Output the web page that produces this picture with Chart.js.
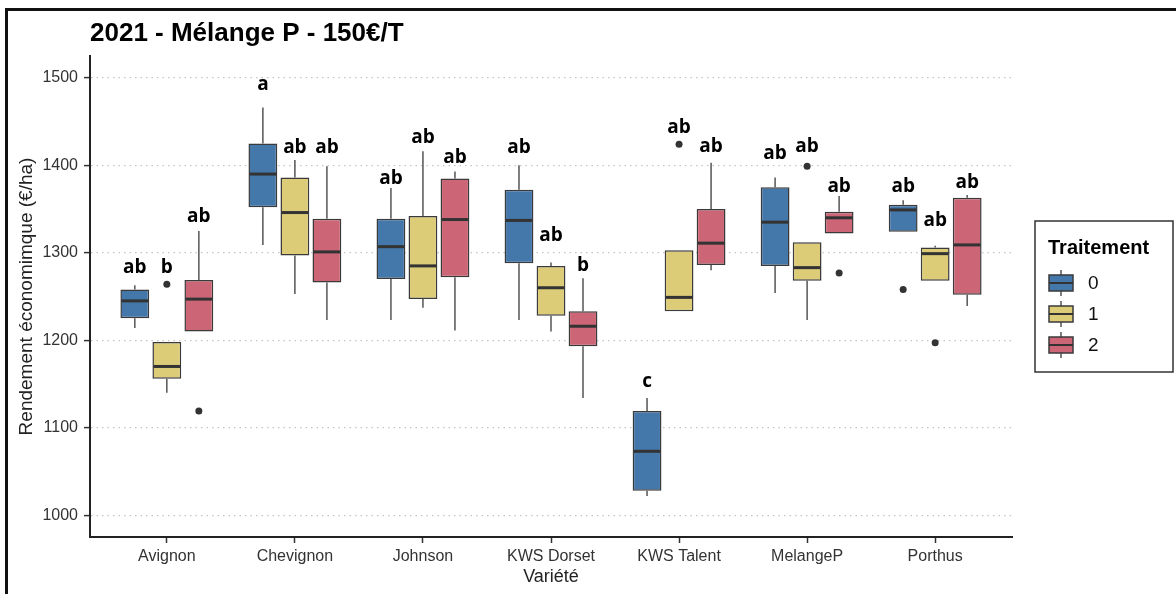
<!DOCTYPE html>
<html>
<head>
<meta charset="utf-8">
<script src="https://cdn.jsdelivr.net/npm/chart.js@4.4.1/dist/chart.umd.min.js"></script>
<style>
  html, body { margin: 0; padding: 0; background: #fff; }
  #frame { position: absolute; left: 5px; top: 8px; width: 1200px; height: 620px;
           border-left: 3px solid #111; border-top: 3px solid #111; }
  #chart { position: absolute; left: 0; top: 0; }
</style>
</head>
<body>
<div id="frame"></div>
<canvas id="chart" width="1176" height="594"></canvas>
<script>
// Données (rendement économique en €/ha)
const categories = ['Avignon', 'Chevignon', 'Johnson', 'KWS Dorset', 'KWS Talent', 'MelangeP', 'Porthus'];
const treatments = ['0', '1', '2'];
const fills = ['#4477AA', '#DDCC77', '#CC6677'];
const yTicks = [1000, 1100, 1200, 1300, 1400, 1500];

// une ligne par traitement (0, 1, 2), une colonne par variété
const lower = [
  [1214, 1309, 1223, 1223, 1022, 1254, 1324],
  [1140, 1253, 1237, 1210, 1233, 1223, 1268],
  [1210, 1223, 1211, 1134, 1280, 1322, 1239]
];
const q1 = [
  [1225, 1352, 1270, 1288, 1028, 1285, 1324],
  [1156, 1297, 1247, 1228, 1233, 1268, 1268],
  [1210, 1266, 1272, 1193, 1286, 1322, 1252]
];
const median = [
  [1245, 1390, 1307, 1337, 1073, 1335, 1349],
  [1170, 1346, 1285, 1260, 1249, 1283, 1299],
  [1247, 1301, 1338, 1216, 1311, 1340, 1309]
];
const q3 = [
  [1258, 1425, 1339, 1372, 1119, 1375, 1355],
  [1198, 1386, 1342, 1285, 1303, 1312, 1306],
  [1269, 1339, 1385, 1233, 1350, 1347, 1363]
];
const upper = [
  [1263, 1466, 1374, 1400, 1134, 1386, 1360],
  [1198, 1406, 1416, 1289, 1303, 1312, 1308],
  [1325, 1399, 1393, 1271, 1403, 1365, 1366]
];
const outliers = [
  [[], [], [], [], [], [], [1258]],
  [[1264], [], [], [], [1424], [1399], [1197]],
  [[1119], [], [], [], [], [1277], []]
];
const letters = [
  ['ab', 'a', 'ab', 'ab', 'c', 'ab', 'ab'],
  ['b', 'ab', 'ab', 'ab', 'ab', 'ab', 'ab'],
  ['ab', 'ab', 'ab', 'b', 'ab', 'ab', 'ab']
];
const letterY = [
  [1277, 1486, 1379, 1414, 1147, 1407, 1369],
  [1277, 1414, 1425, 1313, 1437, 1415, 1331],
  [1335, 1414, 1403, 1279, 1415, 1369, 1374]
];

const sans = '"Liberation Sans", Arial, sans-serif';

// moustaches, médianes, points extrêmes, lettres, titre et légende
const boxExtras = {
  id: 'boxExtras',
  beforeDatasetsDraw(chart) {
    const ctx = chart.ctx, y = chart.scales.y;
    ctx.save();
    ctx.strokeStyle = '#555';
    ctx.lineWidth = 1.5;
    treatments.forEach((t, k) => {
      chart.getDatasetMeta(k).data.forEach((bar, i) => {
        ctx.beginPath();
        ctx.moveTo(bar.x, y.getPixelForValue(q3[k][i]));
        ctx.lineTo(bar.x, y.getPixelForValue(upper[k][i]));
        ctx.moveTo(bar.x, y.getPixelForValue(q1[k][i]));
        ctx.lineTo(bar.x, y.getPixelForValue(lower[k][i]));
        ctx.stroke();
      });
    });
    ctx.restore();
  },
  afterDatasetsDraw(chart) {
    const ctx = chart.ctx, y = chart.scales.y;
    ctx.save();
    treatments.forEach((t, k) => {
      chart.getDatasetMeta(k).data.forEach((bar, i) => {
        const half = bar.width / 2;
        const ym = y.getPixelForValue(median[k][i]);
        ctx.strokeStyle = '#333';
        ctx.lineWidth = 3;
        ctx.beginPath();
        ctx.moveTo(bar.x - half + 1, ym);
        ctx.lineTo(bar.x + half - 1, ym);
        ctx.stroke();

        ctx.fillStyle = '#333';
        outliers[k][i].forEach(v => {
          ctx.beginPath();
          ctx.arc(bar.x, y.getPixelForValue(v), 3.5, 0, Math.PI * 2);
          ctx.fill();
        });

        ctx.fillStyle = '#000';
        ctx.font = 'bold 19px "Open Sans", sans-serif';
        ctx.textAlign = 'center';
        ctx.textBaseline = 'alphabetic';
        ctx.fillText(letters[k][i], bar.x, y.getPixelForValue(letterY[k][i]));
      });
    });
    ctx.restore();
  },
  afterDraw(chart) {
    const ctx = chart.ctx;
    ctx.save();
    // titre
    ctx.fillStyle = '#000';
    ctx.font = 'bold 26px ' + sans;
    ctx.textAlign = 'left';
    ctx.textBaseline = 'alphabetic';
    ctx.fillText('2021 - Mélange P - 150€/T', chart.chartArea.left, 41);

    // légende
    ctx.strokeStyle = '#333';
    ctx.lineWidth = 1.5;
    ctx.strokeRect(1035, 221, 138, 151);
    ctx.font = 'bold 20px ' + sans;
    ctx.fillText('Traitement', 1048, 254);
    treatments.forEach((t, k) => {
      const cy = 283 + k * 31;
      ctx.strokeStyle = '#555';
      ctx.lineWidth = 1.5;
      ctx.beginPath();
      ctx.moveTo(1061, cy - 13);
      ctx.lineTo(1061, cy + 13);
      ctx.stroke();
      ctx.fillStyle = fills[k];
      ctx.fillRect(1049, cy - 8, 24, 16);
      ctx.strokeStyle = '#3a3a3a';
      ctx.strokeRect(1049, cy - 8, 24, 16);
      ctx.strokeStyle = '#333';
      ctx.lineWidth = 2;
      ctx.beginPath();
      ctx.moveTo(1049, cy);
      ctx.lineTo(1073, cy);
      ctx.stroke();
      ctx.fillStyle = '#111';
      ctx.font = '19px ' + sans;
      ctx.textBaseline = 'middle';
      ctx.fillText(t, 1088, cy + 1);
      ctx.textBaseline = 'alphabetic';
    });
    ctx.restore();
  }
};

const ctx = document.getElementById('chart').getContext('2d');

const chart = new Chart(ctx, {
  type: 'bar',
  data: {
    datasets: treatments.map((t, k) => ({
      label: t,
      data: categories.map((c, i) => ({ x: i, y: [q1[k][i], q3[k][i]] })),
      backgroundColor: fills[k],
      borderColor: '#3a3a3a',
      borderWidth: 1.5,
      borderSkipped: false,
      categoryPercentage: 0.75,
      barPercentage: 0.9
    }))
  },
  options: {
    responsive: false,
    animation: false,
    layout: { padding: { left: 8, top: 56, right: 164, bottom: 0 } },
    plugins: {
      legend: { display: false },
      tooltip: { enabled: false },
      title: { display: false }
    },
    scales: {
      x: {
        type: 'linear',
        min: -0.6,
        max: 6.6,
        offset: false,
        afterBuildTicks: s => { s.ticks = categories.map((c, i) => ({ value: i })); },
        afterFit: s => { s.height = 57; },
        grid: { display: true, offset: false, drawOnChartArea: false, drawTicks: true, tickLength: 6, tickColor: '#333', tickWidth: 1.5 },
        border: { display: true, color: '#222', width: 2 },
        ticks: {
          callback: v => categories[v],
          font: { family: sans, size: 16 },
          color: '#333',
          padding: 4,
          maxRotation: 0,
          autoSkip: false
        },
        title: {
          display: true,
          text: 'Variété',
          font: { family: sans, size: 18 },
          color: '#222',
          padding: { top: 0, bottom: 6 }
        }
      },
      y: {
        min: 975,
        max: 1525,
        afterBuildTicks: s => { s.ticks = yTicks.map(v => ({ value: v })); },
        afterFit: s => { s.width = 82; },
        grid: { color: '#c4c4c4', lineWidth: 1.2, tickLength: 6, tickColor: '#333', tickWidth: 1.5 },
        border: { display: true, color: '#222', width: 2, dash: [1.5, 4] },
        ticks: {
          callback: v => String(v),
          font: { family: sans, size: 16 },
          color: '#333',
          padding: 6
        },
        title: {
          display: true,
          text: 'Rendement économimque (€/ha)',
          font: { family: sans, size: 19 },
          color: '#222',
          padding: { top: 7, bottom: 0 }
        }
      }
    }
  },
  plugins: [boxExtras]
});
</script>
</body>
</html>
